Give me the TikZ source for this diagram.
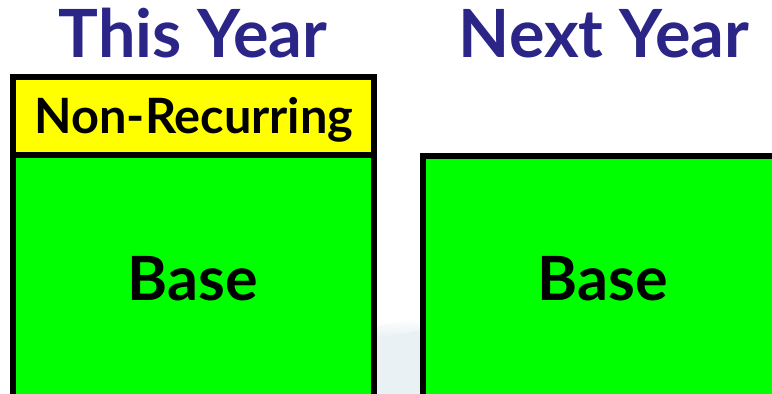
\documentclass[tikz,border=0pt]{standalone}
\usepackage{fontspec}
\setmainfont{Lato}
\definecolor{titleblue}{RGB}{42,37,135}
\definecolor{boxgreen}{RGB}{0,255,0}
\definecolor{boxyellow}{RGB}{255,255,0}
\definecolor{haze}{RGB}{233,241,244}
\begin{document}
\begin{tikzpicture}[x=1pt,y=-1pt,
  title/.style={font=\fontsize{66.5}{72}\selectfont\bfseries, text=titleblue, inner sep=0pt, anchor=base},
  boxtext/.style={font=\fontsize{61}{66}\selectfont\bfseries, text=black, inner sep=0pt, anchor=base},
  smalltext/.style={font=\fontsize{48.7}{54}\selectfont\bfseries, text=black, inner sep=0pt, anchor=base},
  frame/.style={draw=black, line width=6pt}]
\useasboundingbox (0,0) rectangle (772,394);
\clip (0,0) rectangle (772,394);
\fill[white] (0,0) rectangle (772,394);
\shade[top color=white, bottom color=haze] (377,326) -- (420,318) -- (420,330) -- (377,338) -- cycle;
\fill[haze] (377,338) -- (420,330) -- (420,394) -- (377,394) -- cycle;
% left column
\fill[boxyellow] (13,77) rectangle (374,155);
\fill[boxgreen] (13,155) rectangle (374,420);
\draw[frame] (13,420) -- (13,77) -- (374,77) -- (374,420);
\draw[frame] (13,155) -- (374,155);
% right column
\fill[boxgreen] (423,156.3) rectangle (800,420);
\draw[frame] (423,420) -- (423,156.3) -- (800,156.3);
% texts
\node[title] (t1) at (193,57.5) {This Year};
\node[title] (t2) at (604,57.5) {Next Year};
\node[smalltext] (nr) at (194,133.3) {Non-Recurring};
\node[boxtext] (b1) at (193,300.5) {Base};
\node[boxtext] (b2) at (603,300.5) {Base};
\end{tikzpicture}
\end{document}
